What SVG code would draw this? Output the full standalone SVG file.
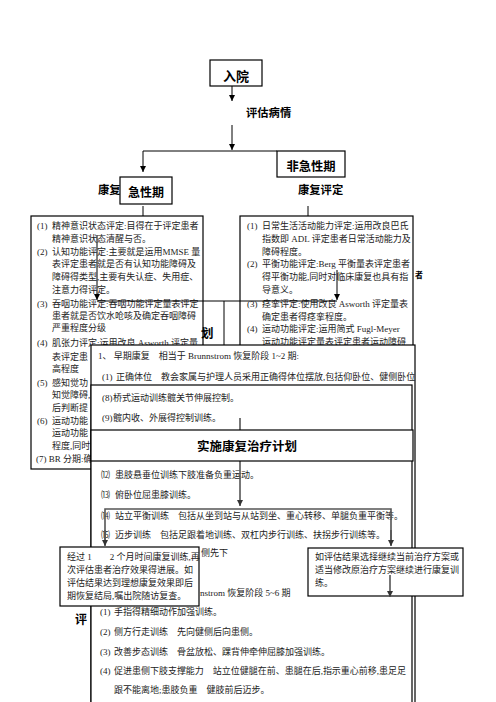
<svg xmlns="http://www.w3.org/2000/svg" width="496" height="702" viewBox="0 0 496 702">
<defs>
<style>
.bx{fill:#fff;stroke:#000;stroke-width:1.2}
.t{font-family:"Liberation Serif","Noto Sans CJK SC",serif;font-size:9px;fill:#222}
.h{font-family:"Noto Sans CJK SC",sans-serif;font-weight:bold;fill:#000}
.ln{stroke:#000;stroke-width:1;fill:none}
.gl{stroke:#555;stroke-width:1.6;fill:none}
</style>
<marker id="ah" viewBox="0 0 10 10" refX="10" refY="5" markerWidth="6" markerHeight="6" markerUnits="userSpaceOnUse" orient="auto"><path d="M0,0 L10,5 L0,10 z" fill="#000"/></marker>
<marker id="ahg" viewBox="0 0 10 10" refX="10" refY="5" markerWidth="6" markerHeight="6" markerUnits="userSpaceOnUse" orient="auto"><path d="M0,0 L10,5 L0,10 z" fill="#333"/></marker>
</defs>
<rect width="496" height="702" fill="#fff"/>

<g id="connectors-top">
<line class="ln" x1="232" y1="86" x2="232" y2="101" marker-end="url(#ah)"/>
<line class="ln" x1="232" y1="125" x2="232" y2="150" marker-end="url(#ah)"/>
<line class="ln" x1="143" y1="151" x2="277" y2="151"/>
<line class="ln" x1="143" y1="151" x2="143" y2="172" marker-end="url(#ah)"/>
<line class="ln" x1="143" y1="206" x2="143" y2="216"/>
<line class="ln" x1="308" y1="206" x2="308" y2="216"/>
</g>

<g id="node-ruyuan">
<rect class="bx" x="210" y="60" width="52" height="26"/>
<text class="h" x="236" y="81" font-size="13" text-anchor="middle">入院</text>
</g>
<g id="label-pinggu">
<text class="h" x="246" y="117" font-size="11.3">评估病情</text>
</g>
<g id="label-kangfu-left">
<text class="h" x="98" y="194" font-size="11.3">康复</text>
</g>
<g id="node-jixingqi">
<rect class="bx" x="120" y="177" width="52" height="27"/>
<text class="h" x="146" y="197" font-size="12" text-anchor="middle">急性期</text>
</g>
<g id="node-feijixingqi">
<rect class="bx" x="277" y="151" width="68" height="26"/>
<text class="h" x="311" y="171" font-size="12.3" text-anchor="middle">非急性期</text>
</g>
<g id="label-kangfu-right">
<text class="h" x="298" y="194" font-size="11.3">康复评定</text>
</g>
<g id="label-zhe">
<text class="h" x="415" y="278" font-size="8">者</text>
</g>

<g id="node-eval-acute">
<rect class="bx" x="31" y="216" width="172" height="253"/>
<text class="t" x="37" y="229">(1)</text><text class="t" x="52" y="229">精神意识状态评定:目得在于评定患者</text>
<text class="t" x="52" y="242">精神意识状态清醒与否。</text>
<text class="t" x="37" y="255">(2)</text><text class="t" x="52" y="255">认知功能评定:主要就是运用MMSE 量</text>
<text class="t" x="52" y="267">表评定患者就是否有认知功能障碍及</text>
<text class="t" x="52" y="280">障碍得类型,主要有失认症、失用症、</text>
<text class="t" x="52" y="293">注意力得评定。</text>
<text class="t" x="37" y="307">(3)</text><text class="t" x="52" y="307">吞咽功能评定:吞咽功能评定量表评定</text>
<text class="t" x="52" y="319">患者就是否饮水呛咳及确定吞咽障碍</text>
<text class="t" x="52" y="331">严重程度分级</text>
<text class="t" x="37" y="346">(4)</text><text class="t" x="52" y="346">肌张力评定:运用改良 Asworth 评定量</text>
<text class="t" x="52" y="360">表评定患</text>
<text class="t" x="52" y="372">高程度</text>
<text class="t" x="37" y="386">(5)</text><text class="t" x="52" y="386">感知觉功</text>
<text class="t" x="52" y="398">知觉障碍,</text>
<text class="t" x="52" y="411">后判断提</text>
<text class="t" x="37" y="424">(6)</text><text class="t" x="52" y="424">运动功能</text>
<text class="t" x="52" y="436">运动功能</text>
<text class="t" x="52" y="449">程度,同时</text>
<text class="t" x="36" y="462">(7) BR 分期:确</text>
</g>

<g id="node-eval-nonacute">
<rect class="bx" x="240" y="216" width="173" height="140"/>
<text class="t" x="247" y="229">(1)</text><text class="t" x="262" y="229">日常生活活动能力评定:运用改良巴氏</text>
<text class="t" x="262" y="242">指数即 ADL 评定患者日常活动能力及</text>
<text class="t" x="262" y="255">障碍程度。</text>
<text class="t" x="247" y="267">(2)</text><text class="t" x="262" y="267">平衡功能评定:Berg 平衡量表评定患者</text>
<text class="t" x="262" y="280">得平衡功能,同时对临床康复也具有指</text>
<text class="t" x="262" y="293">导意义。</text>
<text class="t" x="247" y="307">(3)</text><text class="t" x="262" y="307">痉挛评定:使用改良 Asworth 评定量表</text>
<text class="t" x="262" y="320">确定患者得痉挛程度。</text>
<text class="t" x="247" y="332">(4)</text><text class="t" x="262" y="332">运动功能评定:运用简式 Fugl-Meyer</text>
<text class="t" x="262" y="345">运动功能评定量表评定患者运动障碍</text>
</g>

<g id="connectors-mid">
<line class="ln" x1="97" y1="235" x2="97" y2="300" marker-end="url(#ah)"/>
<line class="ln" x1="337" y1="270" x2="337" y2="300" marker-end="url(#ah)"/>
<line class="ln" x1="97" y1="301" x2="337" y2="301"/>
<line class="ln" x1="224" y1="301" x2="224" y2="345"/>
</g>
<g id="label-hua">
<text class="h" x="201" y="338" font-size="12.5">划</text>
</g>
<g id="label-pingding-bottom">
<text class="h" x="75" y="624" font-size="12">评</text>
</g>

<g id="node-early">
<rect class="bx" x="91" y="345" width="324" height="370"/>
<text class="t" x="98" y="359">1、 早期康复　相当于 Brunnstrom 恢复阶段 1~2 期:</text>
<text class="t" x="102" y="380">(1)</text><text class="t" x="116" y="380">正确体位　教会家属与护理人员采用正确得体位摆放,包括仰卧位、健侧卧位</text>
</g>

<g id="node-items">
<rect class="bx" x="91" y="385" width="321" height="330"/>
<text class="t" x="102" y="401">(8)</text><text class="t" x="113" y="401">桥式运动训练髋关节伸展控制。</text>
<text class="t" x="102" y="421">(9)</text><text class="t" x="113" y="421">髋内收、外展得控制训练。</text>
<text class="t" x="101" y="478">⑿</text><text class="t" x="115" y="478">患肢悬垂位训练下肢准备负重运动。</text>
<text class="t" x="101" y="498">⒀</text><text class="t" x="115" y="498">俯卧位屈患膝训练。</text>
<text class="t" x="101" y="519">⒁</text><text class="t" x="115" y="519">站立平衡训练　包括从坐到站与从站到坐、重心转移、单腿负重平衡等。</text>
<text class="t" x="101" y="538">⒂</text><text class="t" x="115" y="538">迈步训练　包括足跟着地训练、双杠内步行训练、扶拐步行训练等。</text>
<text class="t" x="201" y="556">侧先下</text>
<text class="t" x="200" y="596">nstrom 恢复阶段 5~6 期</text>
<text class="t" x="100" y="615">(1)</text><text class="t" x="114" y="615">手指得精细动作加强训练。</text>
<text class="t" x="100" y="635">(2)</text><text class="t" x="114" y="635">侧方行走训练　先向健侧后向患侧。</text>
<text class="t" x="100" y="655">(3)</text><text class="t" x="114" y="655">改善步态训练　骨盆放松、踝背伸牵伸屈膝加强训练。</text>
<text class="t" x="100" y="674">(4)</text><text class="t" x="114" y="674" textLength="292" lengthAdjust="spacingAndGlyphs">促进患侧下肢支撑能力　站立位健腿在前、患腿在后,指示重心前移,患足足</text>
<text class="t" x="114" y="693">跟不能离地;患肢负重　健肢前后迈步。</text>
</g>

<g id="connectors-low">
<line class="gl" x1="240" y1="418" x2="240" y2="430"/>
<line class="gl" x1="240" y1="461" x2="240" y2="506" marker-end="url(#ahg)"/>
<polyline class="gl" points="105,545 105,509 391,509 391,545"/>
<line class="gl" x1="105" y1="530" x2="105" y2="546" marker-end="url(#ahg)"/>
<line class="gl" x1="391" y1="530" x2="391" y2="546" marker-end="url(#ahg)"/>
</g>

<g id="node-plan">
<rect class="bx" x="91" y="430" width="322" height="31"/>
<text class="h" x="247" y="451" font-size="12.5" text-anchor="middle">实施康复治疗计划</text>
</g>

<g id="node-result-end">
<rect class="bx" x="60" y="547" width="139" height="59"/>
<text class="t" x="67" y="560">经过 1　　2 个月时间康复训练,再</text>
<text class="t" x="67" y="573">次评估患者治疗效果得进展。如</text>
<text class="t" x="67" y="586">评估结果达到理想康复效果即后</text>
<text class="t" x="67" y="599">期恢复结局,嘱出院随访复查。</text>
</g>

<g id="node-result-continue">
<rect class="bx" x="308" y="548" width="155" height="48"/>
<text class="t" x="315" y="560">如评估结果选择继续当前治疗方案或</text>
<text class="t" x="315" y="573">适当修改原治疗方案继续进行康复训</text>
<text class="t" x="315" y="586">练。</text>
<line class="gl" x1="390" y1="575" x2="390" y2="597" marker-end="url(#ahg)"/>
</g>
</svg>
